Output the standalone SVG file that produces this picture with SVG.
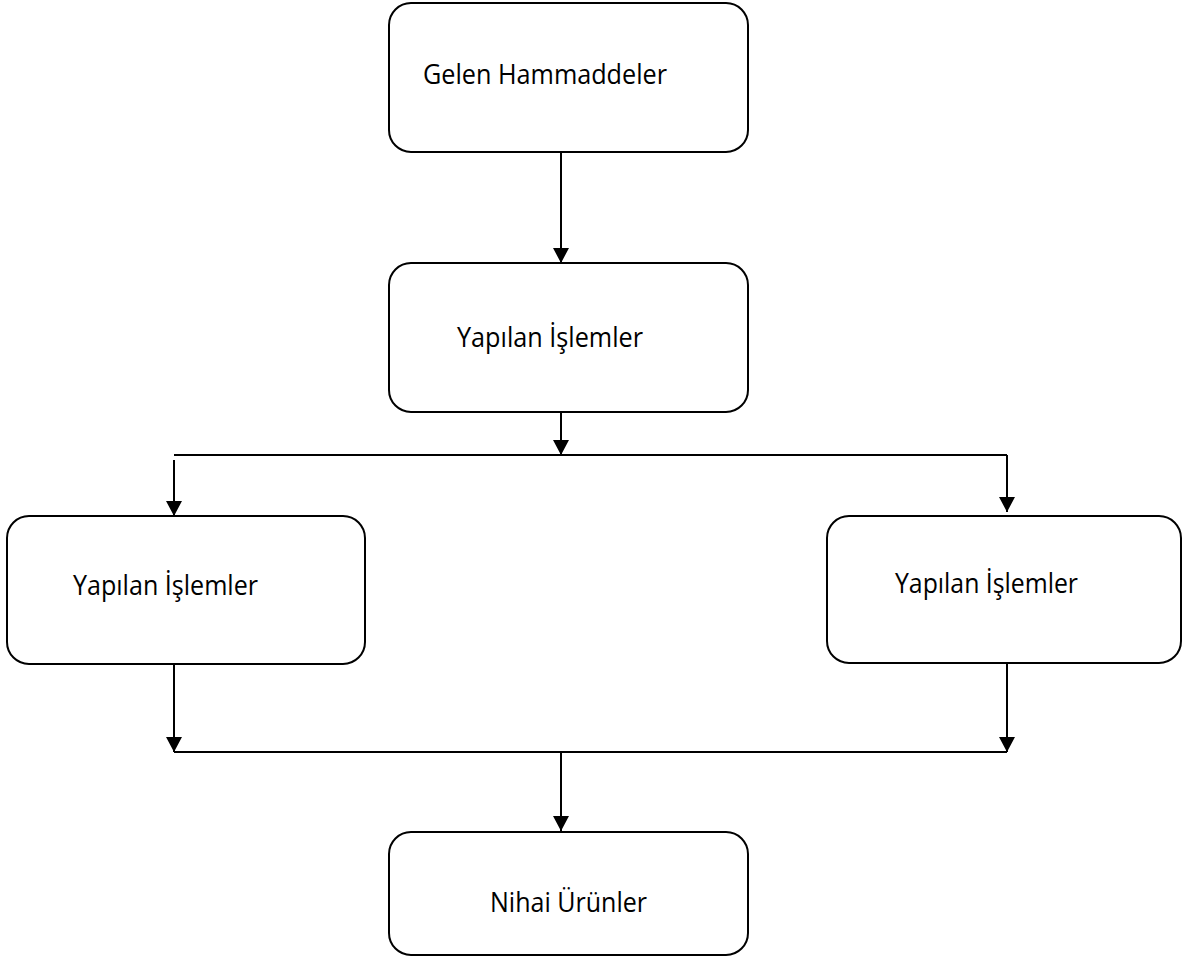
<svg xmlns="http://www.w3.org/2000/svg" width="1182" height="958" viewBox="0 0 1182 958">
<defs>
<style>
.box{fill:#fff;stroke:#000;stroke-width:2}
.lbl{font-family:"Open Sans","Noto Sans",sans-serif;font-size:27px;fill:#000}
.ln{fill:none;stroke:#000;stroke-width:2}
</style>
<marker id="ah" viewBox="0 0 15 16" markerWidth="15" markerHeight="16" refX="15" refY="8" orient="auto" markerUnits="userSpaceOnUse">
<path d="M0,0 L15,8 L0,16 Z" fill="#000"/>
</marker>
</defs>
<rect width="1182" height="958" fill="#fff"/>
<g id="connectors">
<line class="ln" x1="561" y1="152" x2="561" y2="263" marker-end="url(#ah)"/>
<line class="ln" x1="561" y1="412" x2="561" y2="455" marker-end="url(#ah)"/>
<line class="ln" x1="174" y1="455" x2="1007" y2="455"/>
<line class="ln" x1="174" y1="460" x2="174" y2="516" marker-end="url(#ah)"/>
<line class="ln" x1="1007" y1="455" x2="1007" y2="512" marker-end="url(#ah)"/>
<line class="ln" x1="174" y1="664" x2="174" y2="752" marker-end="url(#ah)"/>
<line class="ln" x1="1007" y1="663" x2="1007" y2="752" marker-end="url(#ah)"/>
<line class="ln" x1="174" y1="752" x2="1007" y2="752"/>
<line class="ln" x1="561" y1="752" x2="561" y2="831" marker-end="url(#ah)"/>
</g>
<g id="node1">
<rect class="box" x="389" y="3" width="359" height="149" rx="22"/>
<text class="lbl" x="423" y="84" textLength="244" lengthAdjust="spacingAndGlyphs">Gelen Hammaddeler</text>
</g>
<g id="node2">
<rect class="box" x="389" y="263" width="359" height="149" rx="22"/>
<text class="lbl" x="457" y="347" textLength="186" lengthAdjust="spacingAndGlyphs">Yapılan İşlemler</text>
</g>
<g id="node3">
<rect class="box" x="7" y="516" width="358" height="148" rx="22"/>
<text class="lbl" x="73" y="595" textLength="185" lengthAdjust="spacingAndGlyphs">Yapılan İşlemler</text>
</g>
<g id="node4">
<rect class="box" x="827" y="516" width="354" height="147" rx="22"/>
<text class="lbl" x="895" y="593" textLength="183" lengthAdjust="spacingAndGlyphs">Yapılan İşlemler</text>
</g>
<g id="node5">
<rect class="box" x="389" y="832" width="359" height="123" rx="22"/>
<text class="lbl" x="490" y="912" textLength="157" lengthAdjust="spacingAndGlyphs">Nihai Ürünler</text>
</g>
</svg>
